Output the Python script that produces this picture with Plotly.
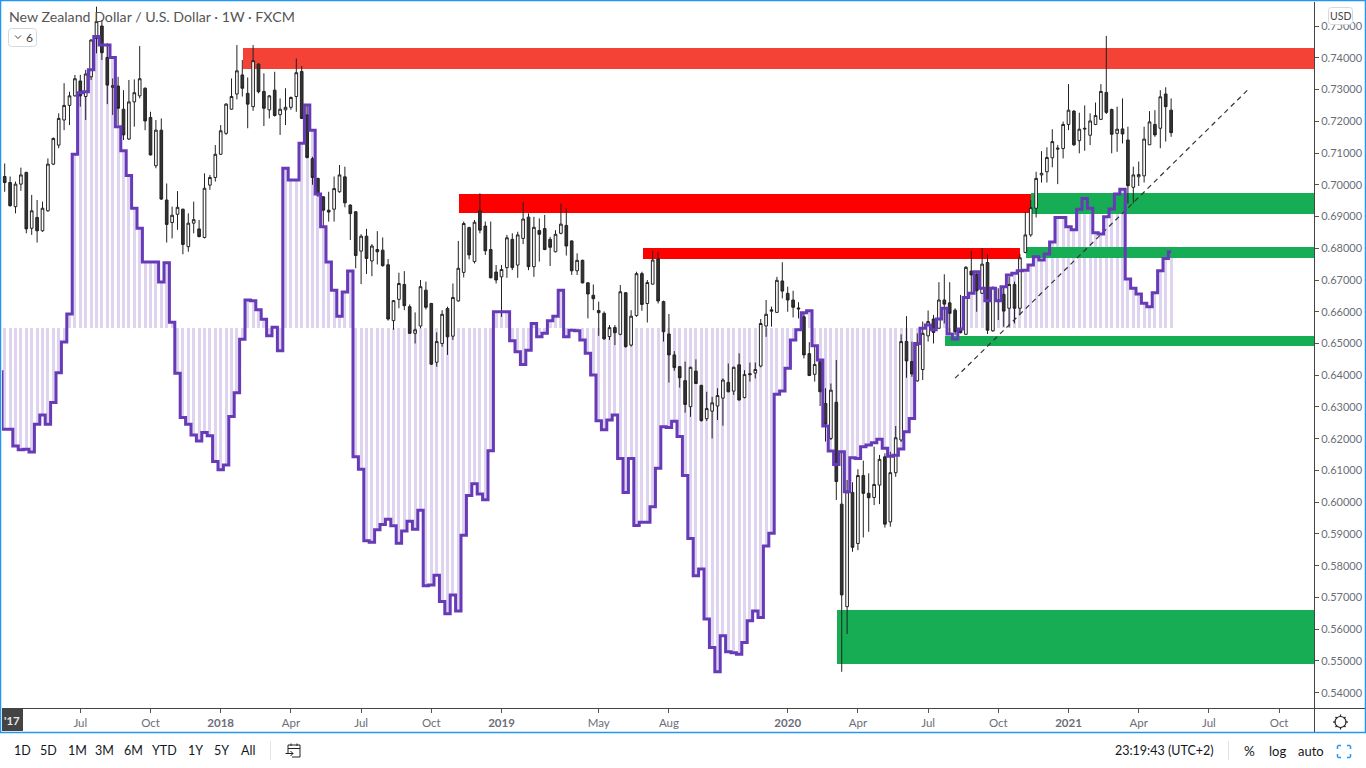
import pandas as pd
import plotly.graph_objects as go

first_week = "2017-03-27"

opens = [.7026,.7007,.6931,.7002,.7039,.6863,.6897,.6855,.6918,.7065,
.7125,.7204,.7250,.7280,.7327,.7278,.7340,.7461,.7500,.7401,
.7307,.7311,.7238,.7144,.7261,.7280,.7304,.7212,.7060,.7172,
.6952,.6881,.6907,.6923,.6805,.6879,.6861,.6834,.6999,.7023,
.7096,.7162,.7238,.7286,.7346,.7288,.7246,.7380,.7294,.7236,
.7298,.7221,.7236,.7244,.7278,.7357,.7220,.7082,.7020,.6962,
.6920,.6923,.6978,.7025,.6936,.6915,.6791,.6838,.6760,.6796,
.6794,.6748,.6572,.6639,.6686,.6616,.6532,.6555,.6668,.6626,
.6441,.6500,.6610,.6523,.6634,.6724,.6865,.6758,.6918,.6870,
.6796,.6725,.6710,.6739,.6828,.6747,.6831,.6898,.6742,.6856,
.6862,.6828,.6789,.6847,.6872,.6823,.6729,.6762,.6691,.6652,
.6604,.6595,.6522,.6550,.6529,.6660,.6495,.6588,.6720,.6626,
.6687,.6766,.6632,.6530,.6464,.6427,.6383,.6301,.6413,.6368,
.6263,.6287,.6303,.6328,.6377,.6350,.6433,.6330,.6405,.6407,
.6429,.6555,.6606,.6598,.6697,.6658,.6637,.6612,.6584,.6468,
.6403,.6443,.6311,.6201,.6315,.5994,.5671,.6031,.5870,.6084,
.6028,.6015,.6054,.6143,.5938,.6093,.6196,.6506,.6443,.6382,
.6418,.6524,.6577,.6548,.6637,.6628,.6605,.6542,.6529,.6728,
.6718,.6658,.6755,.6540,.6637,.6655,.6611,.6686,.6611,.6787,
.6842,.6926,.7031,.7041,.7085,.7112,.7114,.7190,.7232,.7139,
.7178,.7156,.7190,.7206,.7291,.7237,.7162,.7176,.7141,.6992,
.7025,.7028,.7126,.7190,.7178,.7286,.7235]

highs = [.7067,.7026,.7010,.7054,.7041,.6968,.6952,.6947,.7083,.7149,
.7225,.7320,.7293,.7346,.7346,.7362,.7458,.7561,.7519,.7446,
.7335,.7340,.7298,.7330,.7332,.7437,.7307,.7230,.7204,.7209,
.7004,.6931,.6980,.6925,.6910,.6947,.6889,.7036,.7031,.7125,
.7188,.7257,.7335,.7440,.7393,.7338,.7440,.7383,.7351,.7283,
.7356,.7272,.7304,.7278,.7398,.7374,.7251,.7088,.7022,.6964,
.6978,.7026,.7062,.7057,.6938,.6917,.6844,.6861,.6813,.6854,
.6834,.6766,.6637,.6723,.6728,.6623,.6598,.6700,.6695,.6628,
.6535,.6605,.6616,.6689,.6823,.6884,.6868,.6889,.6973,.6884,
.6884,.6747,.6747,.6842,.6847,.6852,.6945,.6910,.6899,.6894,
.6905,.6836,.6857,.6941,.6926,.6825,.6784,.6764,.6693,.6686,
.6632,.6601,.6558,.6558,.6684,.6662,.6605,.6726,.6726,.6700,
.6791,.6789,.6635,.6593,.6476,.6429,.6443,.6427,.6450,.6370,
.6348,.6332,.6359,.6390,.6437,.6427,.6469,.6416,.6440,.6440,
.6577,.6637,.6616,.6710,.6756,.6679,.6666,.6630,.6595,.6504,
.6490,.6446,.6359,.6374,.6448,.6159,.6070,.6063,.6104,.6131,
.6091,.6175,.6149,.6154,.6159,.6240,.6529,.6586,.6506,.6532,
.6569,.6604,.6590,.6693,.6718,.6693,.6611,.6653,.6744,.6791,
.6726,.6800,.6782,.6679,.6674,.6679,.6710,.6695,.6782,.6915,
.6952,.7041,.7106,.7118,.7175,.7125,.7199,.7317,.7235,.7227,
.7250,.7225,.7259,.7317,.7469,.7240,.7246,.7272,.7183,.7057,
.7073,.7183,.7232,.7235,.7298,.7307,.7272]

lows = [.6978,.6931,.6910,.6981,.6847,.6842,.6818,.6852,.6915,.7062,
.7115,.7172,.7188,.7278,.7246,.7204,.7330,.7414,.7393,.7254,
.7220,.7188,.7141,.7141,.7183,.7272,.7172,.7092,.7052,.6952,
.6818,.6831,.6858,.6781,.6789,.6847,.6834,.6831,.6984,.7010,
.7094,.7157,.7236,.7269,.7278,.7178,.7233,.7288,.7185,.7209,
.7215,.7157,.7188,.7236,.7230,.7207,.7083,.7000,.6962,.6868,
.6884,.6884,.6975,.6929,.6826,.6737,.6687,.6719,.6712,.6749,
.6742,.6572,.6543,.6611,.6605,.6530,.6500,.6548,.6607,.6432,
.6427,.6490,.6464,.6511,.6632,.6708,.6765,.6752,.6847,.6779,
.6705,.6689,.6584,.6707,.6731,.6707,.6813,.6731,.6710,.6758,
.6794,.6744,.6787,.6844,.6777,.6716,.6716,.6689,.6579,.6605,
.6524,.6511,.6511,.6495,.6526,.6487,.6490,.6584,.6603,.6566,
.6686,.6626,.6506,.6377,.6414,.6361,.6282,.6269,.6372,.6254,
.6256,.6201,.6259,.6241,.6346,.6338,.6320,.6327,.6380,.6390,
.6425,.6521,.6553,.6597,.6642,.6600,.6582,.6579,.6453,.6398,
.6380,.6303,.6191,.6196,.6007,.5466,.5585,.5844,.5849,.5889,
.5907,.5991,.5994,.5920,.5923,.6080,.6190,.6392,.6395,.6380,
.6385,.6506,.6500,.6546,.6563,.6527,.6527,.6532,.6527,.6658,
.6600,.6656,.6530,.6537,.6574,.6553,.6551,.6563,.6590,.6784,
.6836,.6897,.7007,.7007,.7055,.7002,.7083,.7172,.7122,.7099,
.7107,.7125,.7188,.7204,.7223,.7099,.7104,.7130,.6941,.6941,
.6996,.7007,.7125,.7151,.7115,.7136,.7151]

closes = [.7007,.6934,.7002,.7031,.6861,.6918,.6855,.6926,.7065,.7146,
.7209,.7250,.7280,.7334,.7280,.7349,.7456,.7514,.7416,.7314,
.7312,.7241,.7157,.7261,.7290,.7334,.7201,.7094,.7172,.6955,
.6875,.6904,.6929,.6812,.6879,.6890,.6837,.6989,.7023,.7096,
.7170,.7254,.7278,.7359,.7304,.7254,.7391,.7293,.7241,.7280,
.7218,.7238,.7244,.7275,.7353,.7209,.7086,.7023,.6968,.6920,
.6914,.6988,.7031,.6943,.6909,.6777,.6838,.6768,.6807,.6789,
.6745,.6577,.6635,.6689,.6619,.6532,.6543,.6679,.6614,.6435,
.6506,.6592,.6521,.6645,.6737,.6878,.6779,.6882,.6857,.6792,
.6707,.6700,.6733,.6833,.6739,.6842,.6892,.6742,.6866,.6844,
.6796,.6803,.6844,.6876,.6807,.6729,.6762,.6691,.6656,.6641,
.6597,.6515,.6550,.6534,.6663,.6490,.6586,.6720,.6623,.6692,
.6763,.6634,.6537,.6464,.6424,.6392,.6308,.6425,.6374,.6257,
.6295,.6313,.6336,.6385,.6348,.6425,.6322,.6402,.6402,.6418,
.6563,.6592,.6602,.6699,.6665,.6637,.6614,.6609,.6464,.6399,
.6434,.6348,.6246,.6353,.6065,.5708,.6033,.5858,.6084,.6028,
.6014,.6056,.6135,.5931,.6093,.6203,.6506,.6445,.6404,.6498,
.6532,.6569,.6535,.6637,.6624,.6595,.6537,.6534,.6740,.6716,
.6666,.6750,.6542,.6677,.6632,.6602,.6686,.6611,.6770,.6842,
.6928,.7020,.7036,.7086,.7136,.7115,.7190,.7235,.7126,.7175,
.7176,.7201,.7218,.7294,.7228,.7159,.7175,.7160,.6997,.7031,
.7032,.7144,.7198,.7157,.7277,.7246,.7164]

# indicator starts one week before the first visible candle
indicator = [.6411,
.6230,.6230,.6177,.6165,.6167,.6158,.6246,.6275,.6246,.6314,
.6408,.6505,.6593,.7096,.7290,.7293,.7362,.7467,.7440,.7440,
.7401,.7183,.7107,.7029,.6926,.6863,.6757,.6757,.6757,.6694,
.6754,.6567,.6406,.6267,.6246,.6212,.6193,.6220,.6209,.6128,
.6102,.6117,.6270,.6345,.6513,.6637,.6635,.6606,.6576,.6524,
.6551,.6477,.7052,.7015,.7015,.7131,.7251,.7172,.6971,.6868,
.6757,.6668,.6586,.6662,.6728,.6143,.6104,.5879,.5874,.5913,
.5930,.5946,.5926,.5871,.5909,.5940,.5915,.5975,.5737,.5739,
.5770,.5687,.5649,.5708,.5657,.5896,.6021,.6058,.6026,.6008,
.6162,.6600,.6600,.6600,.6509,.6474,.6434,.6479,.6563,.6521,
.6532,.6572,.6586,.6668,.6521,.6542,.6540,.6511,.6469,.6401,
.6257,.6228,.6259,.6275,.6138,.6031,.6138,.5927,.5937,.5937,
.5986,.6107,.6238,.6235,.6255,.6207,.6084,.5886,.5768,.5790,
.5632,.5542,.5466,.5579,.5529,.5526,.5521,.5558,.5627,.5657,
.5637,.5862,.5902,.6340,.6350,.6422,.6511,.6543,.6597,.6603,
.6493,.6448,.6240,.6161,.6119,.6159,.6033,.6140,.6138,.6175,
.6180,.6187,.6198,.6170,.6145,.6148,.6168,.6222,.6264,.6500,
.6548,.6558,.6543,.6577,.6611,.6530,.6514,.6546,.6645,.6658,
.6726,.6674,.6635,.6674,.6635,.6679,.6716,.6721,.6729,.6731,
.6747,.6773,.6763,.6782,.6820,.6897,.6897,.6868,.6858,.6923,
.6957,.6926,.6849,.6845,.6899,.6924,.6971,.6986,.6703,.6674,
.6656,.6627,.6616,.6660,.6729,.6768,.6789]
indicator_base = 0.6550

# zones: low price, high price, first date, last date, colour
zone_lows = [.7365,.6910,.6766,.6908,.6768,.6492,.5489]
zone_highs = [.7432,.6971,.6800,.6973,.6805,.6525,.5660]
zone_starts = ["2018-01-30","2018-11-06","2019-07-02","2020-11-16","2020-11-10","2020-07-28","2020-03-10"]
zone_ends = ["2022-01-01","2020-11-16","2020-11-02","2022-01-01","2022-01-01","2022-01-01","2022-01-01"]
zone_colors = ["#F44336","#FF0000","#FF0000","#16AD54","#16AD54","#16AD54","#16AD54"]

trend_dates = ["2020-08-10","2021-08-24"]
trend_prices = [.6391,.7298]

price_ticks = [.54,.55,.56,.57,.58,.59,.60,.61,.62,.63,.64,.65,.66,.67,.68,.69,.70,.71,.72,.73,.74,.75]
time_ticks = ["2017-07-03","2017-10-02","2018-01-01","2018-04-02","2018-07-02","2018-10-01","2018-12-31",
              "2019-05-06","2019-08-05","2020-01-06","2020-04-06","2020-07-06","2020-10-05","2021-01-04",
              "2021-04-05","2021-07-05","2021-10-04"]
time_labels = ["Jul","Oct","<b>2018</b>","Apr","Jul","Oct","<b>2019</b>","May","Aug","<b>2020</b>","Apr","Jul","Oct",
               "<b>2021</b>","Apr","Jul","Oct"]
range_buttons = ["1D","5D","1M","3M","6M","YTD","1Y","5Y","All"]
range_button_x = [22,49,77,104,133,164,195,221,248]

W, H = 1366, 768
L, R, T, B = 2, 1314, 2, 708
FONT = "Lato"
week_ms = 7 * 86400000
weeks = pd.date_range(first_week, periods=len(opens), freq="7D")
ind_weeks = pd.date_range(pd.Timestamp(first_week) - pd.Timedelta(days=7), periods=len(indicator), freq="7D")

def px(x):
    return (x - L) / (R - L)

def py(y):
    return (B - y) / (B - T)

fig = go.Figure()

# pale indicator columns
fig.add_trace(go.Bar(x=ind_weeks[1:], y=[v - indicator_base for v in indicator[1:]], base=indicator_base,
                     width=week_ms * 0.55, marker=dict(color="rgba(103,58,183,0.22)", line_width=0),
                     hoverinfo="skip", showlegend=False))

# zones
for lo, hi, s, e, c in zip(zone_lows, zone_highs, zone_starts, zone_ends, zone_colors):
    s, e = pd.Timestamp(s), pd.Timestamp(e)
    fig.add_trace(go.Bar(x=[s + (e - s) / 2], y=[hi - lo], base=lo,
                         width=(e - s).total_seconds() * 1000,
                         marker=dict(color=c, line_width=0), hoverinfo="skip", showlegend=False))

fig.add_trace(go.Candlestick(x=weeks, open=opens, high=highs, low=lows, close=closes,
                             increasing=dict(line=dict(color="#222222", width=1), fillcolor="#FFFFFF"),
                             decreasing=dict(line=dict(color="#222222", width=1), fillcolor="#333333"),
                             whiskerwidth=0, hoverinfo="skip", showlegend=False))

fig.add_trace(go.Scatter(x=trend_dates, y=trend_prices, mode="lines",
                         line=dict(color="#333333", width=1.2, dash="5px,4px"),
                         hoverinfo="skip", showlegend=False))

fig.add_trace(go.Scatter(x=ind_weeks, y=indicator, mode="lines",
                         line=dict(color="#673AB7", width=3, shape="hvh"),
                         hoverinfo="skip", showlegend=False))

shapes, notes = [], []

def line(x0, y0, x1, y1, color, width=1):
    shapes.append(dict(type="line", xref="paper", yref="paper", x0=px(x0), y0=py(y0), x1=px(x1), y1=py(y1),
                       line=dict(color=color, width=width), layer="above"))

def rrect(x0, y0, x1, y1, r, fill, stroke, width=1):
    p = (f"M{px(x0+r)},{py(y0)} L{px(x1-r)},{py(y0)} Q{px(x1)},{py(y0)} {px(x1)},{py(y0+r)} "
         f"L{px(x1)},{py(y1-r)} Q{px(x1)},{py(y1)} {px(x1-r)},{py(y1)} L{px(x0+r)},{py(y1)} "
         f"Q{px(x0)},{py(y1)} {px(x0)},{py(y1-r)} L{px(x0)},{py(y0+r)} Q{px(x0)},{py(y0)} {px(x0+r)},{py(y0)} Z")
    shapes.append(dict(type="path", xref="paper", yref="paper", path=p, fillcolor=fill,
                       line=dict(color=stroke, width=width), layer="above"))

def text(x, y, s, size=13, color="#131722", anchor="center"):
    notes.append(dict(xref="paper", yref="paper", x=px(x), y=py(y), text=s, showarrow=False,
                      xanchor=anchor, yanchor="middle", font=dict(family=FONT, size=size, color=color)))

# frame and axes
line(2, 708.5, 1365, 708.5, "#444444")
line(1314.5, 2, 1314.5, 732, "#444444")
shapes.append(dict(type="rect", xref="paper", yref="paper", x0=px(0.5), y0=py(0.5), x1=px(1365.5), y1=py(732.5),
                   line=dict(color="#2196F3", width=1.5), layer="above"))

# header
text(7, 16, "New Zealand Dollar / U.S. Dollar · 1W · FXCM", 14.2, "#555555", "left")
rrect(8.5, 28.5, 36.5, 46.5, 3, "#FFFFFF", "#D6D8E0")
line(15, 35.5, 18, 38.5, "#444444")
line(18, 38.5, 21, 35.5, "#444444")
text(29, 37.5, "6", 12, "#444444")
rrect(1328.5, 7.5, 1352.5, 24.5, 3, "#FFFFFF", "#D6D8E0")
text(1340.5, 16, "USD", 10.5, "#444444")

# first-year tag
shapes.append(dict(type="rect", xref="paper", yref="paper", x0=px(2), y0=py(709), x1=px(23), y1=py(731),
                   fillcolor="#444444", line_width=0, layer="above"))
text(12, 720, "<b>'17</b>", 11.5, "#E8E8E8")

# gear
shapes.append(dict(type="circle", xref="paper", yref="paper", x0=px(1335), y0=py(716.5), x1=px(1346), y1=py(727.5),
                   line=dict(color="#222222", width=1.2), layer="above"))
for a, b, c, d in [(1340.5, 714.5, 1340.5, 717), (1340.5, 727, 1340.5, 729.5), (1333, 722, 1335.5, 722),
                   (1345.5, 722, 1348, 722), (1335.5, 717, 1337, 718.5), (1345.5, 717, 1344, 718.5),
                   (1335.5, 727, 1337, 725.5), (1345.5, 727, 1344, 725.5)]:
    line(a, b, c, d, "#222222", 1.2)

# bottom bar
for s, x in zip(range_buttons, range_button_x):
    text(x, 750.5, s, 12.5)
line(270.5, 741, 270.5, 760, "#E0E3EB")
text(1164.5, 750.5, "23:19:43 (UTC+2)", 12.5)
line(1228.5, 741, 1228.5, 760, "#E0E3EB")
text(1249.5, 750.5, "%", 13.5)
text(1277, 750.5, "log", 13)
text(1310.5, 750.5, "auto", 13)

# calendar icon
cal = (f"M{px(288)},{py(754)} L{px(288)},{py(745)} L{px(300)},{py(745)} L{px(300)},{py(757)} L{px(292)},{py(757)}")
shapes.append(dict(type="path", xref="paper", yref="paper", path=cal, line=dict(color="#222222", width=1), layer="above"))
line(288, 748.5, 300, 748.5, "#222222")
line(291, 743.5, 291, 746, "#222222")
line(297, 743.5, 297, 746, "#222222")
line(285.5, 753.5, 293, 753.5, "#222222")
line(290.5, 751, 293, 753.5, "#222222")
line(290.5, 756, 293, 753.5, "#222222")

# fullscreen icon
blue = "#2196F3"
for a, b, c, d in [(1337.5, 749, 1337.5, 746), (1337.5, 745.5, 1341, 745.5), (1347, 745.5, 1350.5, 745.5),
                   (1350.5, 746, 1350.5, 749), (1337.5, 754, 1337.5, 757), (1337.5, 757.5, 1341, 757.5),
                   (1347, 757.5, 1350.5, 757.5), (1350.5, 754, 1350.5, 757)]:
    line(a, b, c, d, blue, 1.5)

start = pd.Timestamp(first_week)
fig.update_layout(
    width=W, height=H, autosize=False,
    margin=dict(l=L, r=W - R, t=T, b=H - B, pad=0),
    paper_bgcolor="#FFFFFF", plot_bgcolor="#FFFFFF",
    barmode="overlay", bargap=0, boxgap=0.3,
    showlegend=False, shapes=shapes, annotations=notes,
    font=dict(family=FONT, color="#6B6E78"),
    xaxis=dict(type="date", range=[start - pd.Timedelta(days=3.5), start + pd.Timedelta(days=7 * 242.46)],
               rangeslider=dict(visible=False), showgrid=False, zeroline=False, showline=False,
               tickmode="array", tickvals=time_ticks, ticktext=time_labels, tickangle=0,
               ticks="outside", ticklen=4, tickwidth=1, tickcolor="#555555",
               tickfont=dict(family=FONT, size=11.5, color="#6B6E78")),
    yaxis=dict(side="right", range=[.53518, .75757], showgrid=False, zeroline=False, showline=False,
               tickmode="array", tickvals=price_ticks, ticktext=[f"{v:.5f}" for v in price_ticks],
               ticks="outside", ticklen=4, tickwidth=1, tickcolor="#555555",
               tickfont=dict(family=FONT, size=11, color="#6B6E78")),
)

fig.write_html("out.html", config=dict(displayModeBar=False),
               post_script="document.body.style.margin='0';document.documentElement.style.overflow='hidden';")
